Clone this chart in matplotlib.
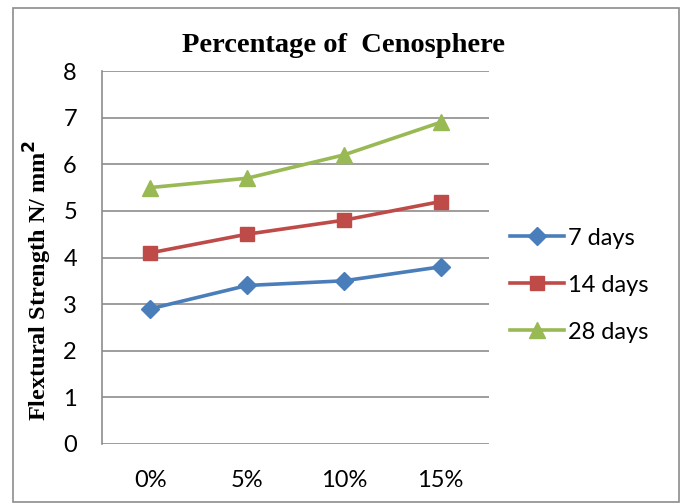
import numpy as np
import matplotlib
matplotlib.use('Agg')
import matplotlib.pyplot as plt
from matplotlib.patches import Rectangle

# dati: resistenza a flessione per percentuale di cenosfera
categorie = ['0%', '5%', '10%', '15%']
giorni_7 = [2.9, 3.4, 3.5, 3.8]
giorni_14 = [4.1, 4.5, 4.8, 5.2]
giorni_28 = [5.5, 5.7, 6.2, 6.9]
etichette = ['7 days', '14 days', '28 days']

colori = ['#4A7EBB', '#BE4B48', '#98B954']
marker = ['D', 's', '^']
dimensioni = [9, 10, 12]

fig = plt.figure(figsize=(6.81, 5.04), dpi=100)
ax = fig.add_axes([102/681, 1 - 444/504, 387/681, 373/504])

x = np.arange(len(categorie))
for serie, col, mk, ms, lab in zip([giorni_7, giorni_14, giorni_28], colori, marker, dimensioni, etichette):
    ax.plot(x, serie, color=col, lw=2.6, marker=mk, markersize=ms, label=lab, zorder=3)

ax.set_xlim(-0.5, len(categorie) - 0.5)
ax.set_ylim(0, 8)
ax.set_yticks(range(0, 9))
ax.set_xticks(x)
ax.set_xticklabels(categorie)
ax.grid(axis='y', color='#8C8C8C', lw=1.2)
ax.set_axisbelow(True)
for s in ['top', 'right', 'bottom']:
    ax.spines[s].set_visible(False)
ax.spines['left'].set_color('#8C8C8C')
ax.spines['left'].set_linewidth(1.2)
ax.tick_params(length=0, labelsize=17)
ax.tick_params(axis='y', pad=18)
ax.tick_params(axis='x', pad=19)
for t in ax.get_xticklabels() + ax.get_yticklabels():
    t.set_family('Lato')

# titolo e asse y
fig.text(38/681, 1 - 280/504, 'Flextural Strength N/ mm$\\mathbf{^2}$', rotation=90,
         ha='center', va='center', fontsize=17.5, fontweight='bold', family='Liberation Serif')
fig.text(0.505, 1 - 45/504, 'Percentage of  Cenosphere', ha='center', va='center',
         fontsize=20.5, fontweight='bold', family='Liberation Serif')

leg = ax.legend(loc='center left', bbox_to_anchor=(1.054, 0.426), frameon=False,
                prop={'family': 'Lato', 'size': 17}, handlelength=2.3,
                labelspacing=1.1, handletextpad=0.15, borderaxespad=0, borderpad=0)

# cornice esterna
fig.patches.append(Rectangle((13/681, 1 - 502/504), 666/681, 494/504, transform=fig.transFigure,
                             fill=False, edgecolor='#8C8C8C', lw=1.2))

plt.savefig('out.png', dpi=100)
